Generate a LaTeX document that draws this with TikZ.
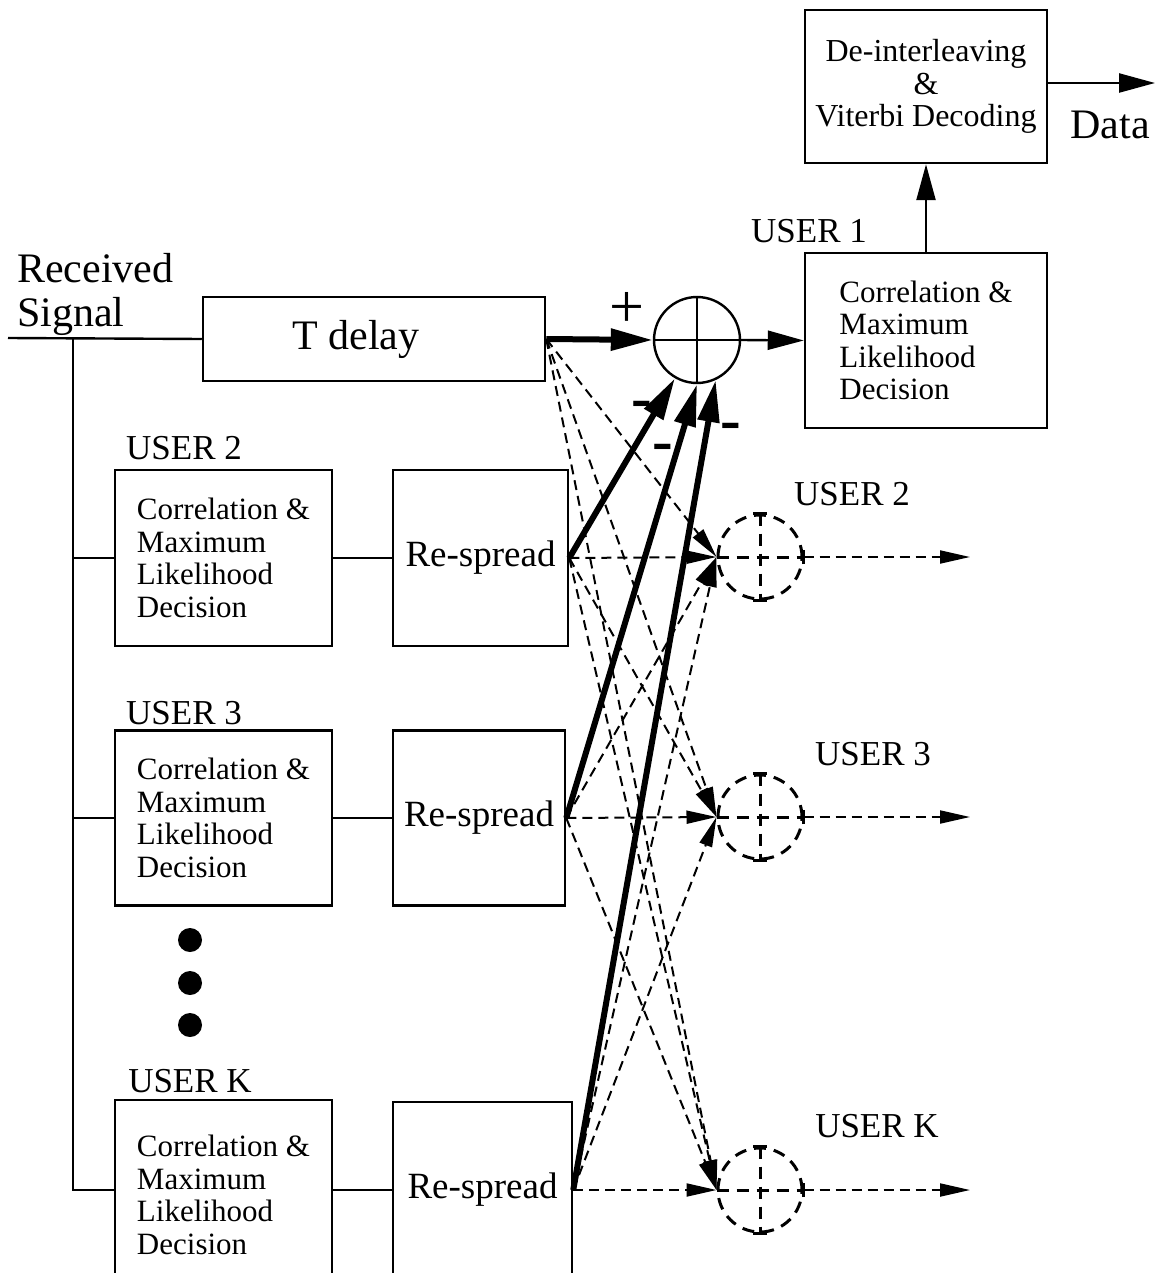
\documentclass[tikz,border=0pt]{standalone}
\usepackage{fontspec}
\setmainfont{Liberation Serif}
\usetikzlibrary{arrows.meta}
\begin{document}
\begin{tikzpicture}[x=1pt,y=-1pt,
  box/.style={draw, line width=2.5pt, inner sep=0pt},
  boxtext/.style={font=\fontsize{31}{32.5}\selectfont, align=left},
  thinln/.style={line width=2.4pt},
  thickln/.style={line width=6pt},
  bigtip/.style={-{Triangle[length=42pt,width=21pt]}},
  midtip/.style={-{Triangle[length=36pt,width=19pt]}},
  dtip/.style={-{Triangle[length=30pt,width=13pt]}},
  dashln/.style={line width=2pt, dash pattern=on 10pt off 6pt},
  jdash/.style={line width=3pt, dash pattern=on 12pt off 8pt},
  lbl/.style={font=\fontsize{35}{38}\selectfont, inner sep=0pt},
  sign/.style={font=\fontsize{62}{62}\selectfont, inner sep=0pt},
  minus/.style={font=\fontsize{62}{62}\selectfont\bfseries, inner sep=0pt}]
\useasboundingbox (0,0) rectangle (1163,1273);
\clip (0,0) rectangle (1163,1273);

% boxes
\node[box, minimum width=242pt, minimum height=153pt, font=\fontsize{32}{32.5}\selectfont, align=center] (dv) at (926,86.5) {De-interleaving\\\&\\Viterbi Decoding};
\node[box, minimum width=242pt, minimum height=175pt, boxtext] (c1) at (926,340.5) {Correlation \&\\Maximum\\Likelihood\\Decision};
\node[box, minimum width=342pt, minimum height=84pt] (td) at (374,339) {};
\node[font=\fontsize{42}{44}\selectfont, inner sep=0pt] (tdt) at (356,339) {T delay};

\node[box, minimum width=217pt, minimum height=176pt, boxtext] (c2) at (223.5,558) {Correlation \&\\Maximum\\Likelihood\\Decision};
\node[box, minimum width=175pt, minimum height=176pt, font=\fontsize{37}{40}\selectfont] (r2) at (480.5,558) {Re-spread};

\node[box, minimum width=217pt, minimum height=175pt, boxtext] (c3) at (223.5,818) {Correlation \&\\Maximum\\Likelihood\\Decision};
\node[box, minimum width=172pt, minimum height=175pt, font=\fontsize{37}{40}\selectfont] (r3) at (479,818) {Re-spread};

\node[box, minimum width=217pt, minimum height=190pt, boxtext] (cK) at (223.5,1195) {Correlation \&\\Maximum\\Likelihood\\Decision};
\node[box, minimum width=179pt, minimum height=176pt, font=\fontsize{37}{40}\selectfont] (rK) at (482.5,1190) {Re-spread};

% summing junction
\node[circle, draw, thinln, minimum size=86pt, inner sep=0pt] (s1) at (697,340) {};
\draw[thinln] (s1.north) -- (s1.south) (s1.west) -- (s1.east);

% dashed junctions
\foreach \n/\y in {2/557,3/817,K/1190}{
  \node[circle, draw, jdash, minimum size=84pt, inner sep=0pt] (d\n) at (760,\y) {};
  \draw[jdash] (d\n.north) -- (d\n.south) (d\n.west) -- (d\n.east);
  \draw[line width=3pt] ([xshift=-7pt]d\n.north) -- ([xshift=7pt]d\n.north)
     ([xshift=-7pt]d\n.south) -- ([xshift=7pt]d\n.south)
     ([yshift=-7pt]d\n.east) -- ([yshift=7pt]d\n.east);
  \coordinate (o\n) at (970,\y);
  \draw[dashln, dtip] (d\n.east) -- (o\n);
}

% input and bus
\coordinate (in) at (8,338);
\coordinate (bus) at (73,338);
\draw[thinln] (in) -- (td.west);
\draw[thinln] (bus) |- (c2.west);
\draw[thinln] (bus) |- (c3.west);
\draw[thinln] (bus) |- (73,1190) -- (cK.west |- 0,1190);
\draw[thinln] (c2.east) -- (r2.west);
\draw[thinln] (c3.east) -- (r3.west);
\draw[thinln] (cK.east |- 0,1190) -- (rK.west);

% main path
\draw[thickln, bigtip] (td.east) -- (s1.west);
\draw[thinln, midtip] (s1.east) -- (c1.west);
\draw[thinln, midtip] (c1.north) -- (dv.south);
\coordinate (out) at (1155,83);
\draw[thinln, midtip] (dv.east |- out) -- (out);

% subtraction arrows
\draw[thickln, bigtip] (r2.east) -- (s1.240);
\draw[thickln, bigtip] (r3.east) -- (s1.south);
\draw[thickln, bigtip] (rK.east) -- (s1.295);

% dashed cross connections
\foreach \s in {td,r2,r3,rK}{
  \foreach \t in {d2,d3,dK}{
    \draw[dashln, dtip] (\s.east) -- (\t.west);
  }
}

% labels
\node[lbl, font=\fontsize{42}{44}\selectfont, align=left, anchor=west] (rs) at (17,294) {Received\\Signal};
\node[lbl, font=\fontsize{42}{44}\selectfont] (data) at (1110,125) {Data};
\node[lbl] (u1) at (809,231) {USER 1};
\node[lbl] (u2l) at (184,448) {USER 2};
\node[lbl] (u3l) at (184,713) {USER 3};
\node[lbl] (uKl) at (190,1081) {USER K};
\node[lbl] (u2r) at (852,494) {USER 2};
\node[lbl] (u3r) at (873,754) {USER 3};
\node[lbl] (uKr) at (877,1126) {USER K};
\node[sign] (plus) at (627,310) {+};
\node[minus] (m1) at (642,410) {-};
\node[minus] (m2) at (663,453) {-};
\node[minus] (m3) at (731,432) {-};

% dots
\fill (190,940) circle (12);
\fill (190,983) circle (12);
\fill (190,1025) circle (12);
\end{tikzpicture}
\end{document}
